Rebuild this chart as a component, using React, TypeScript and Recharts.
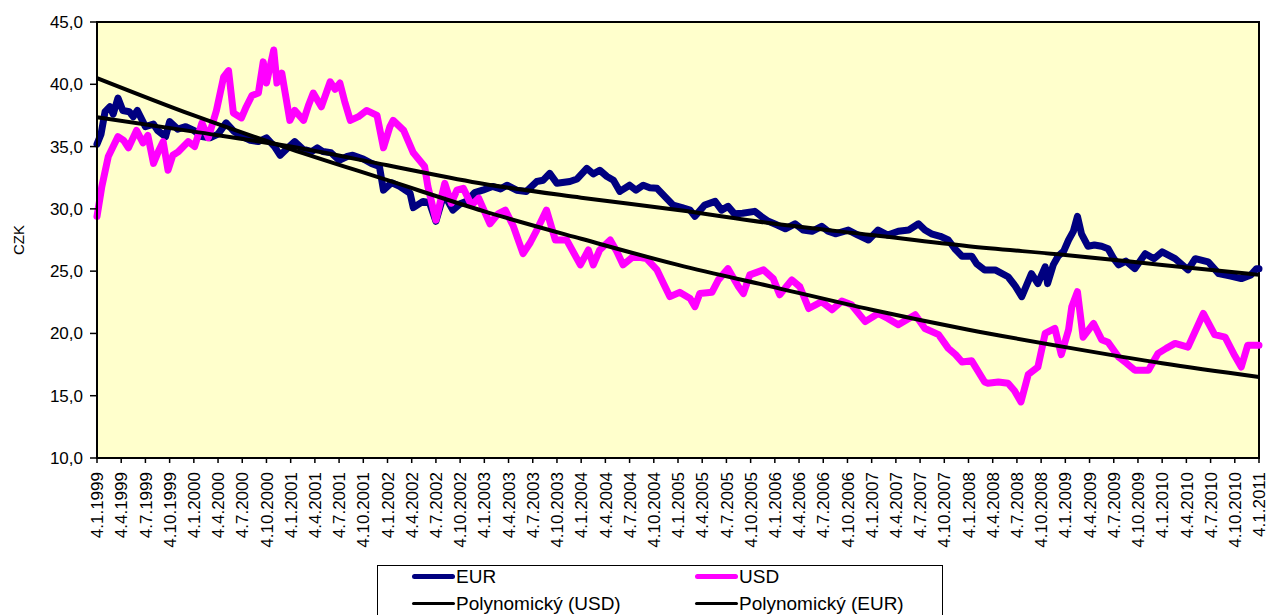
import React from 'react';
import { LineChart, Line, XAxis, YAxis, ReferenceArea } from 'recharts';

// x = months since 4.1.1999, y = CZK rate
const eurSeries: [number, number][] = [
  [0, 35.2], [0.5, 36.0], [1, 37.8], [1.6, 38.2], [2, 37.6], [2.6, 38.9], [3.2, 37.9], [4, 37.8],
  [4.5, 37.4], [5, 37.9], [6, 36.6], [7, 36.8], [7.5, 36.3], [8.5, 35.8], [9, 37.0], [10, 36.4],
  [11, 36.6], [12, 36.3], [13, 35.8], [14, 35.7], [15, 36.0], [16, 36.9], [17, 36.2], [18, 35.8],
  [19, 35.5], [20, 35.4], [21, 35.7], [22, 35.0], [22.7, 34.3], [23.5, 34.8], [24.5, 35.4], [25.5, 34.8],
  [26.6, 34.6], [27.3, 34.9], [28, 34.6], [29, 34.5], [30, 33.9], [31, 34.2], [31.7, 34.3], [33, 34.0],
  [34, 33.65], [35, 33.4], [35.5, 31.5], [36.5, 32.1], [37.5, 31.8], [38.8, 31.25], [39.2, 30.1], [40.4, 30.6],
  [41.2, 30.5], [42, 29.0], [42.9, 31.0], [43.5, 30.6], [44.1, 29.9], [45, 30.4], [45.8, 30.6], [46.8, 31.3],
  [47.8, 31.5], [49, 31.8], [50, 31.6], [50.8, 31.9], [52, 31.5], [53.2, 31.4], [54.5, 32.2], [55.3, 32.3],
  [56.1, 32.85], [57, 32.05], [58.6, 32.2], [59.5, 32.4], [60.7, 33.25], [61.5, 32.8], [62.3, 33.1], [63.2, 32.6],
  [64, 32.3], [64.8, 31.4], [66, 31.9], [66.8, 31.5], [67.7, 31.9], [68.5, 31.7], [69.4, 31.65], [70.5, 30.9],
  [71.4, 30.3], [72.5, 30.1], [73.5, 29.9], [74.1, 29.4], [75.3, 30.3], [76.6, 30.6], [77.4, 29.9], [78.2, 30.2],
  [79, 29.6], [80, 29.65], [81.5, 29.8], [82.3, 29.4], [83.2, 29.0], [84.3, 28.7], [85.3, 28.4], [86.5, 28.8],
  [87.5, 28.3], [88.6, 28.2], [89.8, 28.6], [90.6, 28.2], [91.5, 28.0], [93.1, 28.3], [94.3, 27.9], [95.6, 27.5],
  [96.8, 28.3], [98, 27.9], [99.3, 28.2], [100.6, 28.3], [101.8, 28.8], [102.6, 28.3], [103.4, 28.0], [104.5, 27.8],
  [105.5, 27.5], [106.3, 26.8], [107.2, 26.2], [108.4, 26.2], [109, 25.6], [110, 25.1], [111.3, 25.1], [112.9, 24.55],
  [113.8, 23.8], [114.6, 22.95], [115.8, 24.8], [116.6, 24.0], [117.5, 25.35], [117.8, 24.0], [118.5, 25.5], [119.1, 26.2],
  [119.8, 26.6], [120.4, 27.5], [121, 28.2], [121.5, 29.4], [122, 28.0], [122.8, 27.0], [123.6, 27.1], [124.5, 27.0],
  [125.3, 26.8], [126, 26.0], [126.6, 25.5], [127.5, 25.8], [128.6, 25.2], [129.9, 26.4], [131, 26.0], [132, 26.55],
  [133.6, 26.0], [135.2, 25.1], [136.1, 26.0], [137.7, 25.75], [139, 24.8], [140.5, 24.6], [141.8, 24.4], [143, 24.7],
  [143.7, 25.2], [144, 25.2],
];

const usdSeries: [number, number][] = [
  [0, 29.4], [0.6, 31.8], [1.4, 34.2], [2, 35.0], [2.6, 35.8], [3.3, 35.5], [3.9, 34.9], [4.9, 36.3],
  [5.7, 35.3], [6.3, 35.9], [7, 33.65], [7.6, 34.6], [8.2, 35.4], [8.8, 33.1], [9.4, 34.3], [10.1, 34.6],
  [11.3, 35.4], [12.1, 35.0], [13, 36.9], [13.8, 35.7], [14.8, 37.9], [15.7, 40.6], [16.3, 41.1], [16.9, 37.7],
  [17.9, 37.3], [18.5, 38.2], [19.2, 39.1], [20, 39.3], [20.6, 41.8], [21, 40.1], [21.9, 42.75], [22.3, 40.1],
  [22.9, 40.9], [23.4, 39.0], [23.9, 37.1], [24.5, 37.9], [25.6, 37.1], [26.2, 38.3], [26.8, 39.3], [27.8, 38.2],
  [28.9, 40.2], [29.5, 39.6], [30.1, 40.1], [30.7, 38.6], [31.4, 37.1], [32.4, 37.4], [33.4, 37.9], [34.7, 37.5],
  [35.5, 34.9], [36.3, 36.6], [36.7, 37.1], [38, 36.3], [39.2, 34.5], [40.6, 33.4], [41, 31.8], [42, 29.1],
  [43.1, 32.05], [43.9, 30.45], [44.6, 31.5], [45.4, 31.65], [46.4, 30.3], [47.3, 30.85], [48.7, 28.8], [49.7, 29.6],
  [50.6, 29.9], [51.6, 28.6], [52.8, 26.4], [53.7, 27.3], [54.5, 28.3], [55.7, 29.9], [56.8, 27.5], [58.2, 27.5],
  [59.9, 25.5], [60.9, 26.7], [61.5, 25.5], [62.3, 26.7], [63.6, 27.5], [64.4, 26.6], [65.2, 25.5], [66.5, 26.2],
  [68.1, 26.0], [69.4, 25.1], [70.2, 24.0], [71, 22.95], [72.2, 23.3], [73.5, 22.8], [74.1, 22.15], [74.7, 23.2],
  [76.2, 23.3], [77, 24.3], [78.2, 25.2], [79.5, 23.75], [80.1, 23.2], [80.9, 24.7], [82.6, 25.1], [83.8, 24.4],
  [84.6, 23.1], [86.1, 24.3], [87.1, 23.75], [88.2, 22.0], [89.8, 22.55], [91.1, 21.9], [92.3, 22.6], [93.5, 22.3],
  [95.2, 20.95], [96.8, 21.6], [98, 21.2], [99.3, 20.7], [101.4, 21.5], [102.6, 20.4], [104.3, 19.9], [105.5, 18.8],
  [106.4, 18.3], [107.2, 17.7], [108.4, 17.8], [110, 16.1], [110.4, 16.0], [111.7, 16.1], [112.9, 16.0], [113.7, 15.4],
  [114.5, 14.5], [115.4, 16.7], [116.6, 17.3], [117.5, 20.0], [118.7, 20.4], [119.5, 18.3], [120.4, 20.3], [120.8, 22.15],
  [121.5, 23.35], [122.2, 19.7], [123.5, 20.8], [124.5, 19.5], [125.3, 19.3], [126.6, 18.1], [127.6, 17.6], [128.6, 17.05],
  [130.3, 17.05], [131.5, 18.4], [132.5, 18.8], [133.6, 19.2], [135.2, 18.9], [137.1, 21.6], [138.5, 19.9], [139.8, 19.7],
  [141, 18.2], [141.8, 17.3], [142.6, 19.05], [144, 19.05],
];

// polynomial trend lines
const usdTrend: [number, number][] = [
  [0, 40.5], [12, 37.5], [24, 34.8], [36, 32.3], [48, 29.8], [60, 27.6], [72, 25.5],
  [84, 23.7], [96, 21.9], [108, 20.3], [120, 18.9], [132, 17.6], [144, 16.5],
];
const eurTrend: [number, number][] = [
  [0, 37.35], [12, 36.2], [24, 35.0], [36, 33.5], [48, 32.0], [60, 30.9], [72, 29.9],
  [84, 28.8], [96, 27.9], [108, 27.0], [120, 26.3], [132, 25.5], [144, 24.7],
];

const tickLabels = [
  '4.1.1999', '4.4.1999', '4.7.1999', '4.10.1999', '4.1.2000', '4.4.2000', '4.7.2000', '4.10.2000',
  '4.1.2001', '4.4.2001', '4.7.2001', '4.10.2001', '4.1.2002', '4.4.2002', '4.7.2002', '4.10.2002',
  '4.1.2003', '4.4.2003', '4.7.2003', '4.10.2003', '4.1.2004', '4.4.2004', '4.7.2004', '4.10.2004',
  '4.1.2005', '4.4.2005', '4.7.2005', '4.10.2005', '4.1.2006', '4.4.2006', '4.7.2006', '4.10.2006',
  '4.1.2007', '4.4.2007', '4.7.2007', '4.10.2007', '4.1.2008', '4.4.2008', '4.7.2008', '4.10.2008',
  '4.1.2009', '4.4.2009', '4.7.2009', '4.10.2009', '4.1.2010', '4.4.2010', '4.7.2010', '4.10.2010',
  '4.1.2011',
];
const yTicks = [10, 15, 20, 25, 30, 35, 40, 45];

const toPoints = (s: [number, number][]) => s.map(([m, v]) => ({ m, v }));
const FONT = '"Liberation Sans", Arial, sans-serif';

const XTick = ({ x, y, payload }: any) => (
  <text
    x={0}
    y={0}
    transform={`translate(${x},${y}) rotate(-90)`}
    textAnchor="end"
    dy="0.36em"
    fontSize={17}
    fontFamily={FONT}
    fill="#000"
  >
    {tickLabels[Math.round(payload.value / 3)]}
  </text>
);

const LegendItem = ({ color, width, label }: { color: string; width: number; label: string }) => (
  <div style={{ display: 'flex', alignItems: 'center', height: 27, whiteSpace: 'nowrap' }}>
    <span style={{ display: 'inline-block', width: 43, height: width, background: color, borderRadius: width / 2 }} />
    <span style={{ marginLeft: 1 }}>{label}</span>
  </div>
);

export default function App() {
  return (
    <div style={{ position: 'absolute', left: 0, top: 0, width: 1266, height: 615, background: '#fff', overflow: 'hidden', fontFamily: FONT }}>
      <LineChart width={1266} height={615} margin={{ top: 22, right: 7, bottom: 0, left: 0 }}>
        <XAxis
          dataKey="m"
          type="number"
          domain={[0, 144]}
          ticks={tickLabels.map((_, i) => i * 3)}
          interval={0}
          height={157}
          tickSize={5}
          tickMargin={9}
          tick={<XTick />}
          axisLine={{ stroke: '#000', strokeWidth: 2 }}
          tickLine={{ stroke: '#000', strokeWidth: 1.5 }}
          allowDuplicatedCategory={false}
        />
        <YAxis
          type="number"
          domain={[10, 45]}
          ticks={yTicks}
          width={97}
          tickSize={7}
          tickMargin={7}
          tickFormatter={(v: number) => v.toFixed(1).replace('.', ',')}
          tick={{ fontSize: 17, fill: '#000', fontFamily: FONT }}
          axisLine={{ stroke: '#000', strokeWidth: 2 }}
          tickLine={{ stroke: '#000', strokeWidth: 1.5 }}
          label={({ viewBox }: any) => (
            <text
              x={viewBox.x + 18}
              y={viewBox.y + viewBox.height / 2}
              transform={`rotate(-90 ${viewBox.x + 18} ${viewBox.y + viewBox.height / 2})`}
              textAnchor="middle"
              dominantBaseline="central"
              fontSize={15}
              fontFamily={FONT}
              fill="#000"
            >
              CZK
            </text>
          )}
        />
        <ReferenceArea x1={0} x2={144} y1={10} y2={45} fill="#FFFFCC" fillOpacity={1} stroke="#000" strokeWidth={2} />
        <Line data={toPoints(eurSeries)} dataKey="v" type="linear" stroke="#000080" strokeWidth={7} dot={false} isAnimationActive={false} strokeLinejoin="round" strokeLinecap="round" />
        <Line data={toPoints(usdSeries)} dataKey="v" type="linear" stroke="#FF00FF" strokeWidth={7} dot={false} isAnimationActive={false} strokeLinejoin="round" strokeLinecap="round" />
        <Line data={toPoints(usdTrend)} dataKey="v" type="monotone" stroke="#000" strokeWidth={4} dot={false} isAnimationActive={false} />
        <Line data={toPoints(eurTrend)} dataKey="v" type="monotone" stroke="#000" strokeWidth={4} dot={false} isAnimationActive={false} />
      </LineChart>
      <div
        style={{
          position: 'absolute', left: 377, top: 565, width: 564, height: 60,
          border: '1px solid #000', background: '#fff', fontSize: 19, color: '#000',
        }}
      >
        <div style={{ position: 'absolute', left: 34, top: -3 }}>
          <LegendItem color="#000080" width={5} label="EUR" />
          <LegendItem color="#000" width={3} label="Polynomický (USD)" />
        </div>
        <div style={{ position: 'absolute', left: 317, top: -3 }}>
          <LegendItem color="#FF00FF" width={5} label="USD" />
          <LegendItem color="#000" width={3} label="Polynomický (EUR)" />
        </div>
      </div>
    </div>
  );
}
